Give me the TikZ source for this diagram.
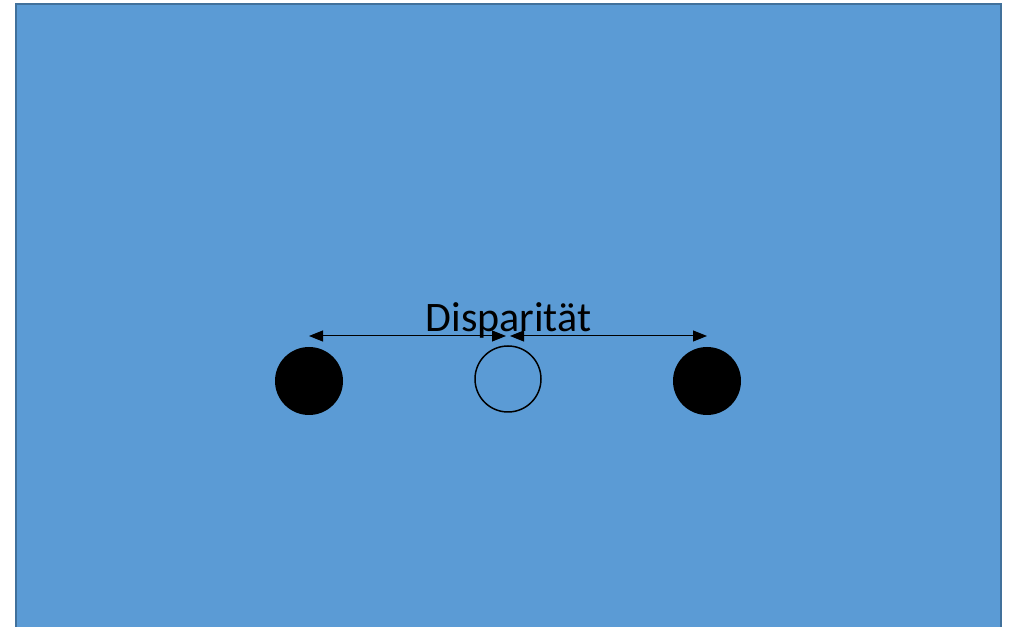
\documentclass[tikz,border=0pt]{standalone}
\usepackage{fontspec}
\setmainfont{Carlito}
\usepackage{tikz}
\usetikzlibrary{arrows.meta,positioning,calc}
\usepackage{xcolor}
\definecolor{panelblue}{RGB}{91,155,213}
\definecolor{paneledge}{RGB}{65,113,156}
\tikzset{
    panel/.style={draw=paneledge, fill=panelblue, line width=2pt},
    dotF/.style={circle, fill=black, inner sep=0pt, minimum size=68pt},
    dotO/.style={circle, draw=black, line width=1.5pt, inner sep=0pt, minimum size=66pt},
    dispar/.style={line width=1pt, {Triangle[length=14pt,width=11pt]}-{Triangle[length=14pt,width=11pt]}},
    label/.style={font=\fontsize{42}{50}\selectfont, inner sep=0pt, anchor=base},
}

\begin{document}
\begin{tikzpicture}[x=1pt,y=1pt]
    \useasboundingbox (0,0) rectangle (1013,627);
    \clip (0,0) rectangle (1013,627);
    \draw[panel] (16,-10) rectangle (1001,623);
    \node[dotF] (L) at (309,246) {};
    \node[dotO] (M) at (508,248) {};
    \node[dotF] (R) at (707,246) {};
    \coordinate (aL) at (309,291);
    \coordinate (aM1) at (506,291);
    \coordinate (aM2) at (510,291);
    \coordinate (aR) at (707,291);
    \draw[dispar] (aL) -- (aM1);
    \draw[dispar] (aM2) -- (aR);
    \node[label] (D) at (508.5,295) {Disparität};
\end{tikzpicture}
\end{document}
